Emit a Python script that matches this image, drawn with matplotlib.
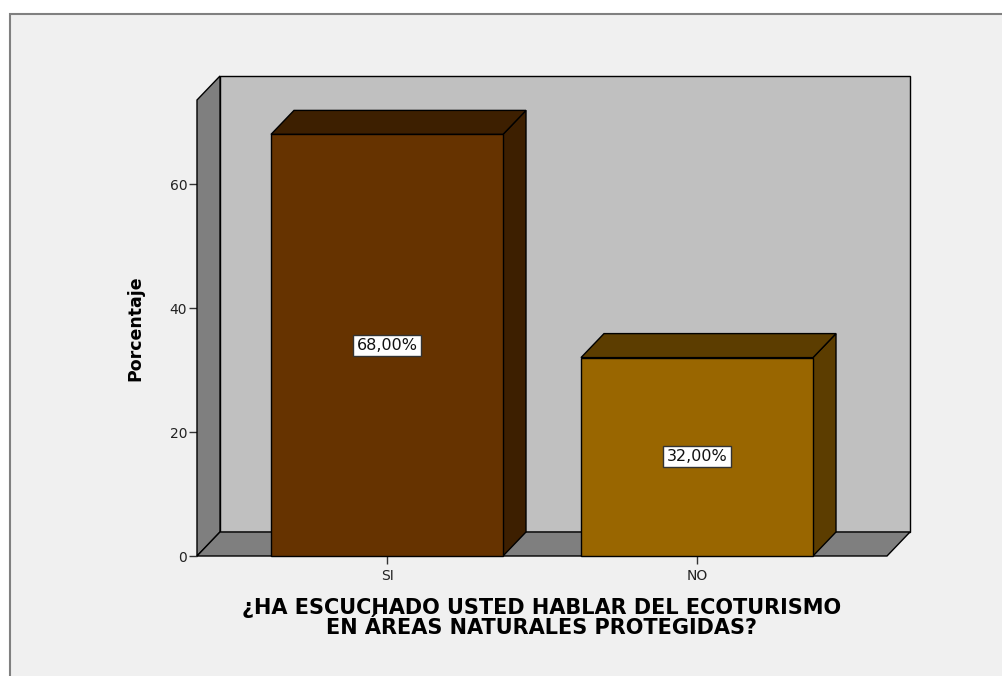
import matplotlib.pyplot as plt
from matplotlib.patches import Polygon, Rectangle

# data
categories = ["SI", "NO"]
percentages = [68.0, 32.0]
value_labels = ["68,00%", "32,00%"]
yticks = [0, 20, 40, 60]

front_colors = ["#663300", "#996600"]
shade_colors = ["#3d1f00", "#5c3d00"]

plt.rcParams["font.family"] = ["DejaVu Sans"]

W, H = 1003, 676
fig = plt.figure(figsize=(W / 100, H / 100), dpi=100)
fig.patch.set_facecolor("white")

# outer frame of the SPSS chart
fig.patches.append(Rectangle((10 / W, -0.01), 1.02, (H - 14) / H + 0.01,
                             transform=fig.transFigure, facecolor="#f0f0f0",
                             edgecolor="#808080", linewidth=1.5, zorder=-10))

# front plane of the plot: x 197..887, y 100..556 px
ax = fig.add_axes([197 / W, 1 - 556 / H, (887 - 197) / W, (556 - 100) / H])
ax.patch.set_visible(False)
for s in ax.spines.values():
    s.set_visible(False)

ymax = (556 - 100) / 6.2
x0, x1 = -190 / 310, 1 + 190 / 310
ax.set_xlim(x0, x1)
ax.set_ylim(0, ymax)

dx = 23 / 310          # depth offset, x data units
dy = 24 / 6.2          # depth offset, y data units
bw = 232 / 310         # bar width
ec = dict(edgecolor="black", linewidth=1.0, clip_on=False)

# back wall, left wall, floor
ax.add_patch(Polygon([(x0 + dx, dy), (x1 + dx, dy), (x1 + dx, ymax + dy), (x0 + dx, ymax + dy)],
                     facecolor="#c0c0c0", zorder=1, **ec))
ax.add_patch(Polygon([(x0, 0), (x0 + dx, dy), (x0 + dx, ymax + dy), (x0, ymax)],
                     facecolor="#7f7f7f", zorder=2, **ec))
ax.add_patch(Polygon([(x0, 0), (x1, 0), (x1 + dx, dy), (x0 + dx, dy)],
                     facecolor="#7f7f7f", zorder=2, **ec))

for i, v in enumerate(percentages):
    l, r = i - bw / 2, i + bw / 2
    ax.add_patch(Polygon([(r, 0), (r + dx, dy), (r + dx, v + dy), (r, v)],
                         facecolor=shade_colors[i], zorder=3, **ec))
    ax.add_patch(Polygon([(l, v), (r, v), (r + dx, v + dy), (l + dx, v + dy)],
                         facecolor=shade_colors[i], zorder=3, **ec))
    ax.add_patch(Polygon([(l, 0), (r, 0), (r, v), (l, v)],
                         facecolor=front_colors[i], zorder=4, **ec))
    ax.text(i, v / 2, value_labels[i], ha="center", va="center", fontsize=11.5,
            color="#111111", zorder=5,
            bbox=dict(boxstyle="square,pad=0.2", facecolor="white",
                      edgecolor="#333333", linewidth=1))

ax.set_yticks(yticks)
ax.set_xticks(range(len(categories)))
ax.set_xticklabels(categories)
ax.tick_params(axis="y", direction="out", length=6, width=1, labelsize=10, pad=1,
               color="#333333", labelcolor="#222222")
ax.tick_params(axis="x", direction="out", length=6, width=1, labelsize=10, pad=3,
               color="#333333", labelcolor="#222222")

ax.set_ylabel("Porcentaje", fontsize=12.5, fontweight="bold", labelpad=18)
ax.set_xlabel("¿HA ESCUCHADO USTED HABLAR DEL ECOTURISMO\nEN ÁREAS NATURALES PROTEGIDAS?",
              fontsize=15, fontweight="bold", labelpad=11.5, linespacing=0.95)

fig.savefig("out.png", dpi=100)
